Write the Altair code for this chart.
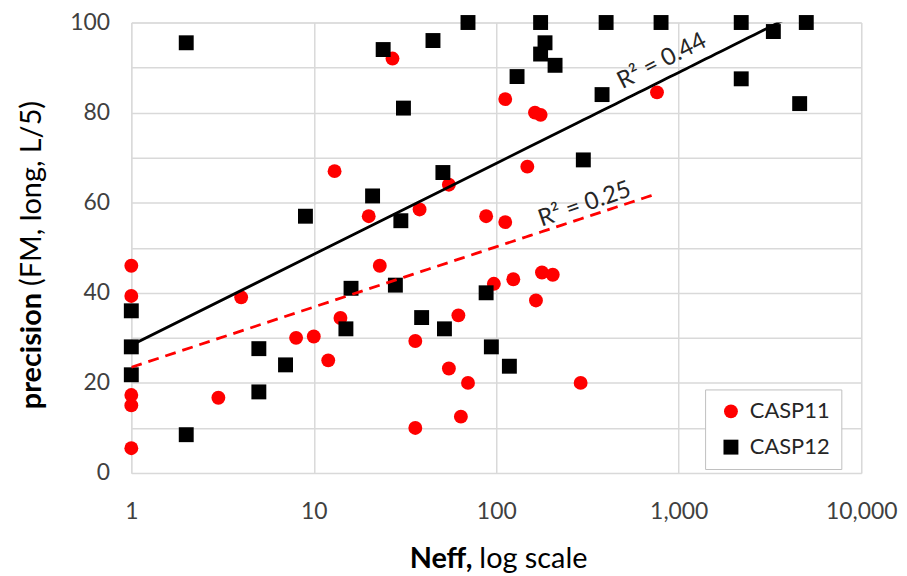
import altair as alt
import pandas as pd

# ---- data ----
casp11_neff = [1, 1, 1, 1, 1, 3, 4, 8, 10, 12, 13, 14, 20, 23, 27, 36, 36, 38, 55, 55,
               62, 64, 70, 88, 97, 112, 112, 124, 148, 163, 165, 175, 178, 204, 290, 760]
casp11_prec = [46, 39.3, 17.3, 15, 5.5, 16.7, 39, 30, 30.3, 25, 67, 34.4, 57, 46, 92, 29.3, 10, 58.5, 64, 23.2,
               35, 12.5, 20, 57, 42, 83, 55.7, 43, 68, 80, 38.3, 79.5, 44.5, 44, 20, 84.5]
casp12_neff = [1, 1, 1, 2, 2, 5, 5, 7, 9, 15, 16, 21, 24, 28, 30, 31, 39, 45, 51, 52,
               70, 88, 94, 118, 130, 175, 175, 185, 210, 300, 380, 400, 800, 2200, 2200, 3300, 4600, 5000]
casp12_prec = [36, 28, 21.8, 95.5, 8.5, 27.6, 18, 24, 57, 32, 41, 61.5, 94, 41.7, 56, 81, 34.5, 96, 66.7, 32,
               100, 40, 28, 23.7, 88, 100, 93, 95.5, 90.5, 69.5, 84, 100, 100, 100, 87.5, 98, 82, 100]

series_names = ["CASP11", "CASP12"]
series_colors = ["#ff0000", "#000000"]
series_shapes = ["circle", "square"]

x_ticks = [1, 10, 100, 1000, 10000]
y_ticks = list(range(0, 101, 10))

r2_text = ["R\u00b2 = 0.25", "R\u00b2 = 0.44"]
r2_neff = [305, 810]
r2_prec = [59.6, 91.4]

FONT = "Lato"

df11 = pd.DataFrame({"neff": casp11_neff, "prec": casp11_prec, "series": "CASP11"})
df12 = pd.DataFrame({"neff": casp12_neff, "prec": casp12_prec, "series": "CASP12"})
df = pd.concat([df11, df12], ignore_index=True)

xscale = alt.Scale(type="log", domain=[1, 10000], nice=False)
yscale = alt.Scale(domain=[0, 100], nice=False, zero=False)

xaxis = alt.Axis(values=x_ticks, format=",", title=None, ticks=False, domain=False,
                 grid=True, gridColor="#d9d9d9", gridWidth=1.5,
                 labelFontSize=23, labelColor="#404040", labelFont=FONT,
                 labelPadding=28, labelFlush=False)
yaxis = alt.Axis(values=y_ticks, labelExpr="datum.value % 20 == 0 ? datum.label : ''",
                 title=None, ticks=False, domain=False,
                 grid=True, gridColor="#d9d9d9", gridWidth=1.5,
                 labelFontSize=23, labelColor="#404040", labelFont=FONT,
                 labelPadding=22)

points = alt.Chart(df).mark_point(filled=True, opacity=1, strokeWidth=0).encode(
    x=alt.X("neff:Q", scale=xscale, axis=xaxis),
    y=alt.Y("prec:Q", scale=yscale, axis=yaxis),
    color=alt.Color("series:N", scale=alt.Scale(domain=series_names, range=series_colors),
                    legend=alt.Legend(title=None, orient="none", legendX=577, legendY=369,
                                      strokeColor="#bfbfbf", fillColor="white", padding=11,
                                      labelFontSize=22, labelFont=FONT, labelColor="#262626",
                                      symbolSize=190, symbolStrokeWidth=0, rowPadding=14,
                                      symbolOffset=4, labelOffset=8)),
    shape=alt.Shape("series:N", scale=alt.Scale(domain=series_names, range=series_shapes)),
    size=alt.Size("series:N", scale=alt.Scale(domain=series_names, range=[195, 225]), legend=None),
)

line12 = alt.Chart(df12).transform_regression("neff", "prec", method="log").mark_line(
    color="black", strokeWidth=2.8, clip=True).encode(
    x=alt.X("neff:Q", scale=xscale), y=alt.Y("prec:Q", scale=yscale))

line11 = alt.Chart(df11).transform_regression("neff", "prec", method="log").mark_line(
    color="#ff0000", strokeWidth=2.8, strokeDash=[11, 7], clip=True).encode(
    x=alt.X("neff:Q", scale=xscale), y=alt.Y("prec:Q", scale=yscale))

r2df = pd.DataFrame({"neff": r2_neff, "prec": r2_prec, "t": r2_text})
r2_red = alt.Chart(r2df.iloc[[0]]).mark_text(angle=341, fontSize=24, font=FONT, color="#262626",
                                             align="center", baseline="middle").encode(
    x=alt.X("neff:Q", scale=xscale), y=alt.Y("prec:Q", scale=yscale), text="t:N")
r2_black = alt.Chart(r2df.iloc[[1]]).mark_text(angle=333, fontSize=24, font=FONT, color="#262626",
                                               align="center", baseline="middle").encode(
    x=alt.X("neff:Q", scale=xscale), y=alt.Y("prec:Q", scale=yscale), text="t:N")

anchor = pd.DataFrame({"a": [0]})
ytitle_bold = alt.Chart(anchor).mark_text(text="precision", fontWeight="bold", fontSize=29, font=FONT,
                                          angle=270, align="right", baseline="middle", color="#000000").encode(
    x=alt.value(-100), y=alt.value(272))
ytitle_rest = alt.Chart(anchor).mark_text(text="(FM, long, L/5)", fontSize=29, font=FONT,
                                          angle=270, align="left", baseline="middle", color="#000000").encode(
    x=alt.value(-100), y=alt.value(265))
xtitle_bold = alt.Chart(anchor).mark_text(text="Neff,", fontWeight="bold", fontSize=29, font=FONT,
                                          align="right", baseline="alphabetic", color="#000000").encode(
    x=alt.value(343), y=alt.value(549))
xtitle_rest = alt.Chart(anchor).mark_text(text="log scale", fontSize=29, font=FONT,
                                          align="left", baseline="alphabetic", color="#000000").encode(
    x=alt.value(350), y=alt.value(549))

chart = alt.layer(points, line12, line11, r2_red, r2_black,
                  ytitle_bold, ytitle_rest, xtitle_bold, xtitle_rest).properties(
    width=734, height=453,
    autosize=alt.AutoSizeParams(type="none"),
    padding={"left": 124, "top": 13, "right": 38, "bottom": 102},
).configure_view(stroke=None).configure(font=FONT)

chart.save("out.html", embed_options={"renderer": "svg", "actions": False})
